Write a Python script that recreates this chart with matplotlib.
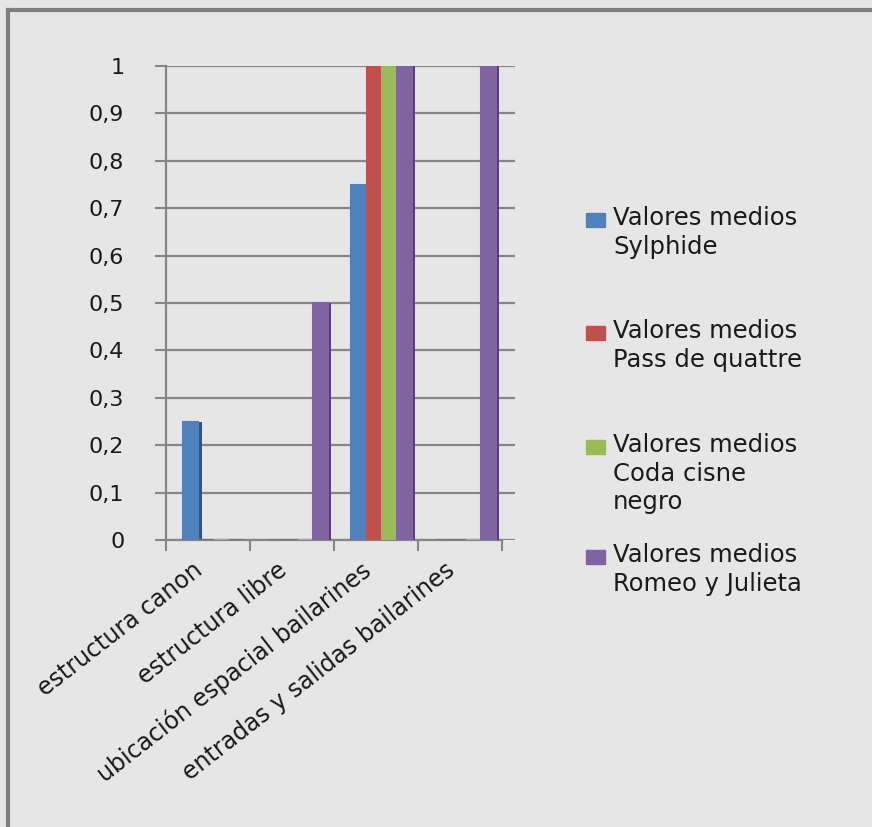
import numpy as np
import matplotlib.pyplot as plt
from matplotlib.lines import Line2D
from matplotlib.patches import Rectangle

plt.rcParams['font.family'] = ['DejaVu Sans']

# datos
categorias = ['estructura canon', 'estructura libre',
              'ubicación espacial bailarines', 'entradas y salidas bailarines']
series = ['Valores medios\nSylphide', 'Valores medios\nPass de quattre',
          'Valores medios\nCoda cisne\nnegro', 'Valores medios\nRomeo y Julieta']
sylphide = [0.25, 0, 0.75, 0]
pass_quattre = [0, 0, 1, 0]
coda_cisne = [0, 0, 1, 0]
romeo_julieta = [0, 0.5, 1, 1]
yticks = [0, 0.1, 0.2, 0.3, 0.4, 0.5, 0.6, 0.7, 0.8, 0.9, 1]
ytick_labels = ['0', '0,1', '0,2', '0,3', '0,4', '0,5', '0,6', '0,7', '0,8', '0,9', '1']

valores = [sylphide, pass_quattre, coda_cisne, romeo_julieta]
colores = ['#4F81BD', '#C0504D', '#9BBB59', '#8064A2']
oscuros = ['#2F5587', '#8A2F2C', '#6E8A38', '#55407A']

fondo = '#e6e6e6'
gris = '#868686'
texto = '#1a1a1a'

fig = plt.figure(figsize=(8.72, 8.27), dpi=100)
fig.patch.set_facecolor(fondo)

W, H = 872, 827
ax = fig.add_axes([166 / W, 1 - 540 / H, 349 / W, 474 / H])
ax.set_facecolor('none')

x = np.arange(len(categorias))
ancho = 0.18
for i, vals in enumerate(valores):
    pos = x + (i - 1.5) * ancho + 0.065
    ax.bar(pos, vals, width=ancho, color=colores[i], edgecolor=colores[i],
           linewidth=1.5, zorder=4)
    ax.bar(pos + ancho / 2 + 0.02, vals, width=0.04, color=oscuros[i],
           linewidth=0, zorder=3)

ax.set_xlim(-0.5, 3.65)
ax.set_ylim(0, 1)

ax.set_yticks(yticks)
ax.set_yticklabels(ytick_labels, fontsize=16, color=texto)
ax.tick_params(axis='y', length=8, width=1.5, color=gris, pad=22)
ax.yaxis.grid(True, color=gris, linewidth=1.6, zorder=1)
ax.set_axisbelow(True)

ax.set_xticks(np.arange(-0.5, 4, 1))
ax.set_xticklabels([])
ax.tick_params(axis='x', length=8, width=1.5, color=gris, direction='out')

for s in ['top', 'right']:
    ax.spines[s].set_visible(False)
ax.spines['left'].set_color(gris)
ax.spines['left'].set_linewidth(1.6)
ax.spines['bottom'].set_color(gris)
ax.spines['bottom'].set_linewidth(1.6)
ax.spines['bottom'].set_bounds(-0.5, 3.5)

# etiquetas de categorias
trans = ax.get_xaxis_transform()
for i, c in enumerate(categorias):
    ax.text(i - 0.1, -0.058, c, transform=trans, rotation=38,
            rotation_mode='anchor', ha='right', va='center',
            fontsize=17, color=texto)

# leyenda
y_ent = [220, 333, 447, 557]
for i, lab in enumerate(series):
    yc = y_ent[i]
    fig.add_artist(Rectangle((586 / W, 1 - (yc + 7) / H), 19 / W, 14 / H,
                             transform=fig.transFigure, color=colores[i]))
    fig.text(613 / W, 1 - (yc - 14) / H, lab, fontsize=17.5, va='top',
             ha='left', color=texto, linespacing=1.25)

# marco
fig.add_artist(Line2D([8 / W, 1], [1 - 10 / H, 1 - 10 / H], color='#7f7f7f', lw=3))
fig.add_artist(Line2D([8 / W, 8 / W], [0, 1 - 10 / H], color='#7f7f7f', lw=3))

fig.savefig('out.png', dpi=100, facecolor=fondo)
